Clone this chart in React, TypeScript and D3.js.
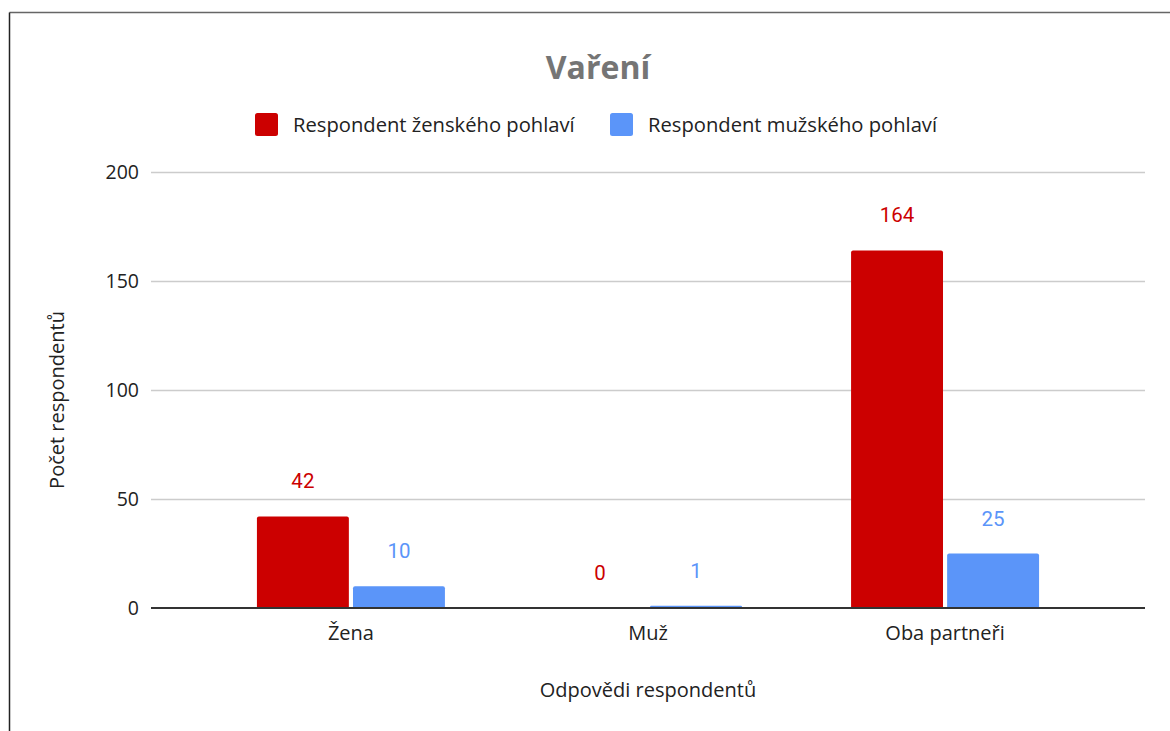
import * as d3 from "d3";

const categories = ["Žena", "Muž", "Oba partneři"];
const seriesNames = ["Respondent ženského pohlaví", "Respondent mužského pohlaví"];
const femaleValues = [42, 0, 164];
const maleValues = [10, 1, 25];
const yTicks = [0, 50, 100, 150, 200];

const colors = ["#cc0000", "#5b95f9"];
const width = 1170;
const height = 731;
const plotLeft = 151;
const plotRight = 1145;
const plotTop = 172;
const plotBottom = 608;
const font = "'Open Sans', sans-serif";

const rows = categories.map((c, i) => ({
	category: c,
	values: [femaleValues[i], maleValues[i]],
}));

const App = () => {
	// scales
	const x0 = d3
		.scaleBand()
		.domain(categories)
		.range([plotLeft, plotRight])
		.paddingInner(0)
		.paddingOuter(0.173);

	const x1 = d3
		.scaleBand()
		.domain(["0", "1"])
		.range([x0.bandwidth() / 2 - 94, x0.bandwidth() / 2 + 94])
		.paddingInner(0.043);

	const y = d3.scaleLinear().domain([0, 200]).range([plotBottom, plotTop]);

	// bar with small rounded top corners
	const barPath = (x: number, w: number, top: number, bottom: number) => {
		const r = Math.min(2, (bottom - top) / 2);
		return `M${x},${bottom}V${top + r}Q${x},${top} ${x + r},${top}H${x + w - r}Q${x + w},${top} ${x + w},${top + r}V${bottom}Z`;
	};

	return (
		<svg
			width={width}
			height={height}
			viewBox={`0 0 ${width} ${height}`}
			style={{ position: "absolute", left: 0, top: 0, background: "#fff" }}
		>
			<rect x={0} y={0} width={width} height={height} fill="#fff" />
			{/* frame, only left and top edges visible */}
			<line x1={9.5} y1={12.5} x2={width} y2={12.5} stroke="#666" strokeWidth={1.5} />
			<line x1={9.5} y1={12.5} x2={9.5} y2={height} stroke="#222" strokeWidth={1.5} />

			<text
				x={598}
				y={79}
				textAnchor="middle"
				fontFamily={font}
				fontWeight="bold"
				fontSize={32}
				fill="#757575"
			>
				Vaření
			</text>

			{/* legend */}
			<g className="legend" fontFamily={font} fontSize={20.2} fill="#222">
				{[255, 610].map((lx, i) => (
					<g key={i}>
						<rect x={lx} y={113} width={23} height={23} rx={2.5} fill={colors[i]} />
						<text x={lx + 38} y={131.5}>
							{seriesNames[i]}
						</text>
					</g>
				))}
			</g>

			{/* grid and y ticks */}
			<g className="grid">
				{yTicks.map((t) => (
					<g key={t}>
						{t !== 0 && (
							<line
								x1={plotLeft}
								x2={plotRight}
								y1={y(t) + 0.5}
								y2={y(t) + 0.5}
								stroke="#cccccc"
								strokeWidth={1.5}
							/>
						)}
						<text
							x={139}
							y={y(t)}
							dy="0.36em"
							textAnchor="end"
							fontFamily={font}
							fontSize={19.5}
							fill="#222"
						>
							{t}
						</text>
					</g>
				))}
			</g>

			{/* bars */}
			<g className="bars">
				{rows.map((row) =>
					row.values.map((v, i) => {
						const bx = (x0(row.category) ?? 0) + (x1(String(i)) ?? 0);
						const bw = x1.bandwidth();
						return (
							<g key={row.category + i}>
								{v > 0 && (
									<path d={barPath(bx, bw, y(v), y(0))} fill={colors[i]} />
								)}
								<text
									x={bx + bw / 2}
									y={y(v) - 28}
									textAnchor="middle"
									fontFamily="Roboto, sans-serif"
									fontSize={20.5}
									fill={colors[i]}
								>
									{v}
								</text>
							</g>
						);
					})
				)}
			</g>

			{/* baseline */}
			<line x1={plotLeft} x2={plotRight} y1={y(0)} y2={y(0)} stroke="#333" strokeWidth={2} />

			{/* category labels */}
			<g className="x-labels" fontFamily={font} fontSize={20} fill="#222">
				{categories.map((c) => (
					<text key={c} x={(x0(c) ?? 0) + x0.bandwidth() / 2} y={640} textAnchor="middle">
						{c}
					</text>
				))}
			</g>

			<text x={648} y={697} textAnchor="middle" fontFamily={font} fontSize={20} fill="#222">
				Odpovědi respondentů
			</text>
			<text
				transform={`translate(64,400) rotate(-90)`}
				textAnchor="middle"
				fontFamily={font}
				fontSize={20}
				fill="#222"
			>
				Počet respondentů
			</text>
		</svg>
	);
};

export default App;
